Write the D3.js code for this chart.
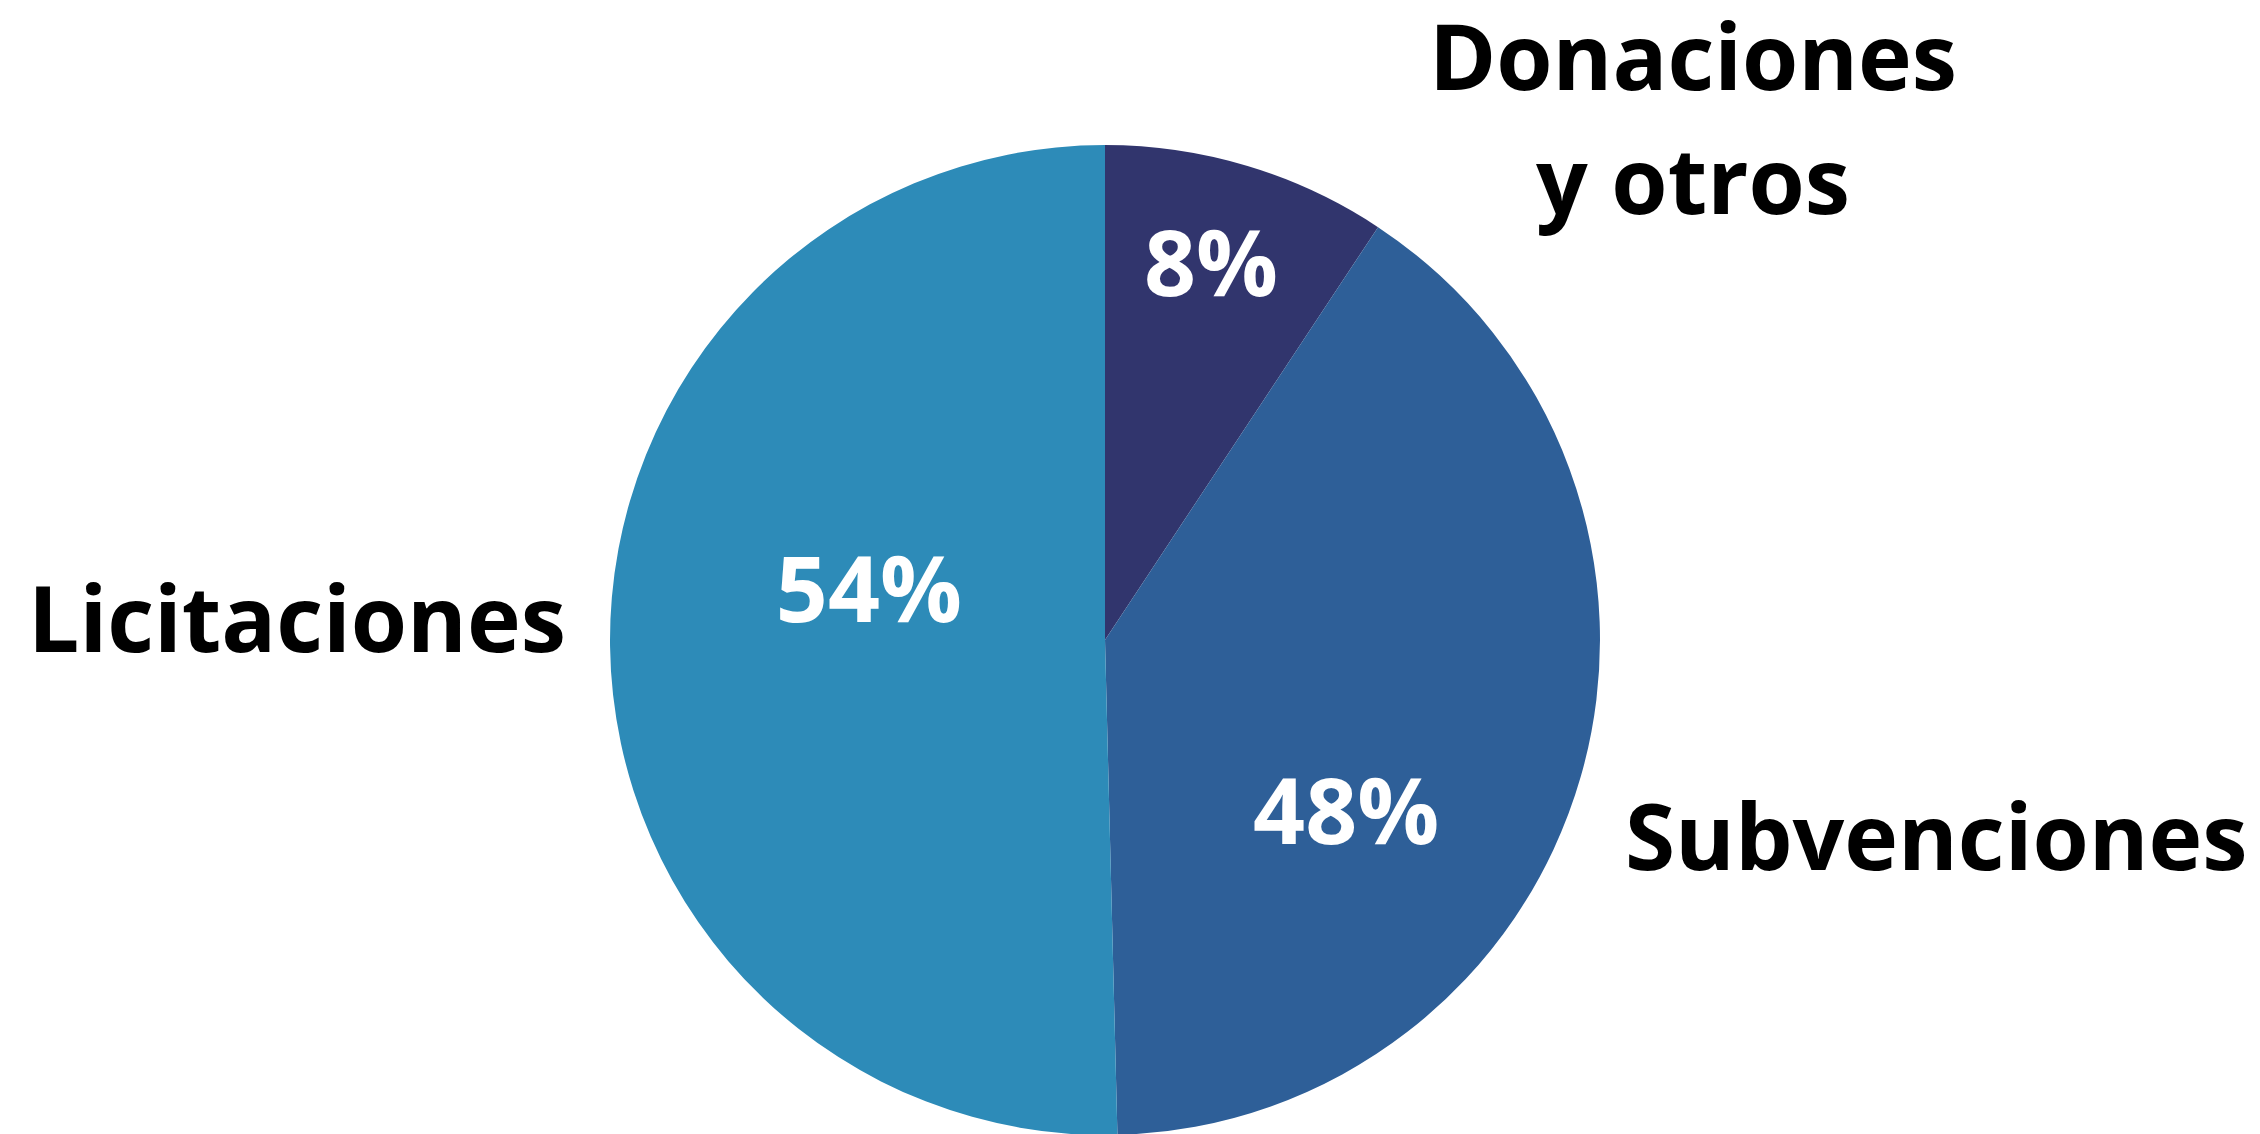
<!DOCTYPE html>
<html>
<head>
<meta charset="utf-8">
<script src="https://cdn.jsdelivr.net/npm/d3@7"></script>
<style>
  html, body { margin: 0; padding: 0; background: #fff; }
  svg { display: block; }
</style>
</head>
<body>
<div id="chart"></div>
<script>
// data (slice sizes from the wedge angles, labels as printed)
var categories = ["Donaciones y otros", "Subvenciones", "Licitaciones"];
var sliceValues = [9.3, 40.3, 50.4];
var pctLabels = ["8%", "48%", "54%"];
var colors = ["#31356d", "#2e5f98", "#2d8bb8"];

var W = 2260, H = 1134;
var cx = 1105, cy = 640, radius = 495;

// where the labels sit (layout only)
var pctPos = [[0.47, 0.79], [0.633, 0.597], [0.571, 0.488]];   // [fraction of slice angle, fraction of radius]
var nameLines = [["Donaciones", "y otros"], ["Subvenciones"], ["Licitaciones"]];
var namePos = [{x: 1693, y: 90, anchor: "middle"}, {x: 1625, y: 870, anchor: "start"}, {x: 28, y: 652, anchor: "start"}];

var svg = d3.select("#chart").append("svg")
    .attr("width", W)
    .attr("height", H);

var pie = d3.pie().sort(null).value(function(d){ return d; });
var arcs = pie(sliceValues);
var arc = d3.arc().innerRadius(0).outerRadius(radius);

var g = svg.append("g").attr("transform", "translate(" + cx + "," + cy + ")");

g.selectAll("path.slice")
    .data(arcs)
    .enter().append("path")
    .attr("class", "slice")
    .attr("d", arc)
    .attr("fill", function(d, i){ return colors[i]; });

g.selectAll("text.pct")
    .data(arcs)
    .enter().append("text")
    .attr("class", "pct")
    .attr("transform", function(d, i){
        var a = d.startAngle + (d.endAngle - d.startAngle) * pctPos[i][0];
        var r = radius * pctPos[i][1];
        return "translate(" + (Math.sin(a) * r) + "," + (-Math.cos(a) * r) + ")";
    })
    .attr("text-anchor", "middle")
    .attr("dy", "0.36em")
    .attr("font-family", "'Open Sans', sans-serif")
    .attr("font-weight", 700)
    .attr("font-size", 91)
    .attr("fill", "#fff")
    .text(function(d, i){ return pctLabels[i]; });

var names = svg.selectAll("text.name")
    .data(categories)
    .enter().append("text")
    .attr("class", "name")
    .attr("x", function(d, i){ return namePos[i].x; })
    .attr("y", function(d, i){ return namePos[i].y; })
    .attr("text-anchor", function(d, i){ return namePos[i].anchor; })
    .attr("font-family", "'Open Sans', sans-serif")
    .attr("font-weight", 700)
    .attr("font-size", 91)
    .attr("fill", "#000");

names.each(function(d, i){
    var t = d3.select(this);
    nameLines[i].forEach(function(line, j){
        t.append("tspan")
            .attr("x", namePos[i].x)
            .attr("dy", j === 0 ? 0 : 124)
            .text(line);
    });
});
</script>
</body>
</html>
